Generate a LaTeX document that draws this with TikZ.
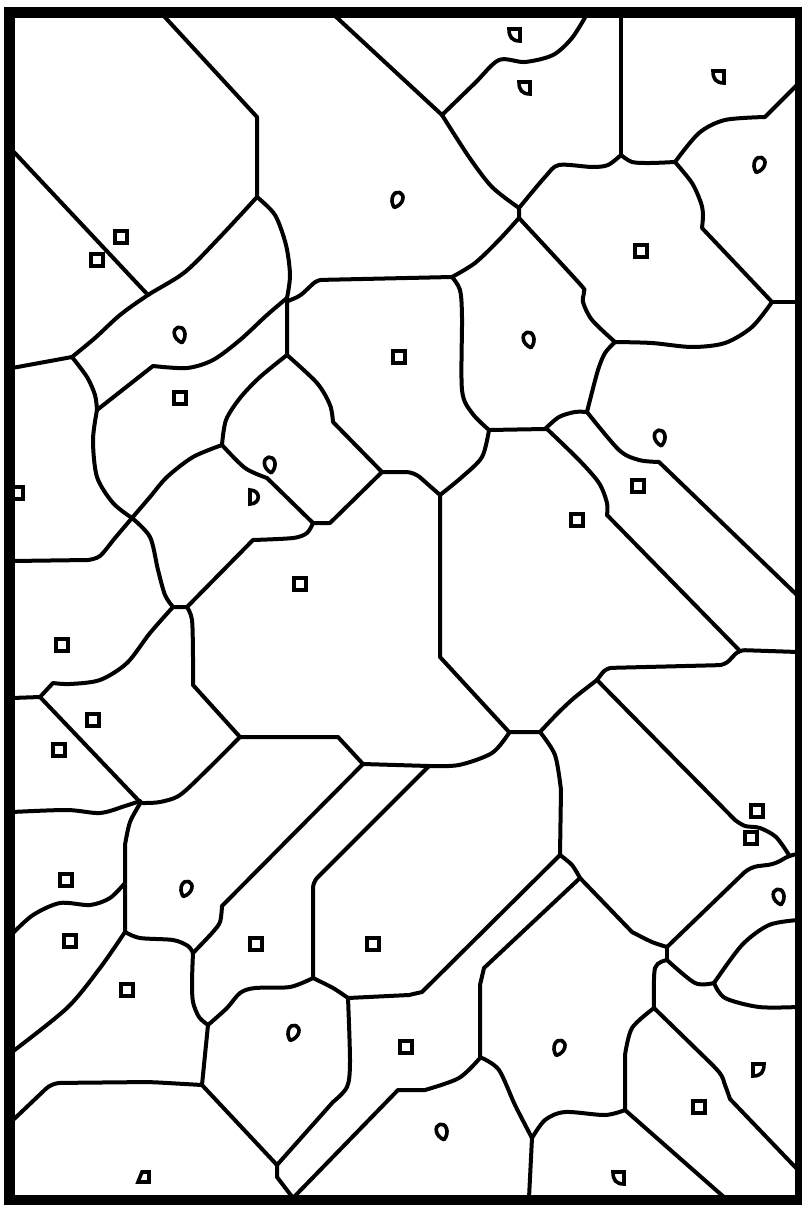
\documentclass[tikz,border=0pt]{standalone}
\usepackage{tikz}
\tikzset{
  wall/.style={line width=4pt, line join=round, line cap=round},
  seed/.style={line width=3.6pt, line join=miter},
  frame/.style={line width=11pt}
}
\newcommand{\seedbox}[1]{\draw[seed] (#1) ++(-6,-6) rectangle ++(12,12);}
\newcommand{\seeddrop}[2]{\draw[seed, line join=round, shift={(#1)}, rotate=#2] (0,8) .. controls (-8,2) and (-6,-8) .. (0,-8) .. controls (6,-8) and (8,2) .. (0,8) -- cycle;}
\newcommand{\seedquarter}[1]{\draw[seed] (#1) ++(5,-6) -- ++(-11,0) .. controls +(0,8) and +(-8,0) .. ++(11,12) -- cycle;}
\newcommand{\seedcorner}[1]{\draw[seed] (#1) ++(-6,-6) -- ++(11,0) .. controls +(0,8) and +(8,0) .. ++(-11,12) -- cycle;}
\newcommand{\seedhalf}[1]{\draw[seed] (#1) ++(-5,-7) -- ++(0,14) .. controls +(11,0) and +(11,0) .. ++(0,-14) -- cycle;}
\newcommand{\seedtrap}[1]{\draw[seed] (#1) ++(-2,-5) -- ++(7,0) -- ++(0,10) -- ++(-11,0) -- cycle;}

\begin{document}
\begin{tikzpicture}[x=1pt, y=-1pt]
\useasboundingbox (0,0) rectangle (802,1205);
\fill[white] (0,0) rectangle (802,1205);

% Top left cells
\draw[wall] (162,14) -- (257,117) -- (257,197);
\draw[wall] (12,150) -- (148,295);
\draw[wall] plot[smooth] coordinates {(257,197) (220,237) (185,272) (148,295) (120,315) (95,338) (72,357)};
\draw[wall] (12,368) -- (72,357);
\draw[wall] plot[smooth] coordinates {(72,357) (87,377) (95,395) (97,410)};
\draw[wall] plot[smooth] coordinates {(257,197) (275,215) (286,245) (290,275) (287,298)} -- (287,355);
\draw[wall] plot[smooth] coordinates {(287,298) (267,315) (240,340) (213,360) (187,368) (153,366)} -- (97,410);
\draw[wall, rounded corners=5] (288,301) -- (300,296) -- (317,280) -- (452,277);

% Middle left cells
\draw[wall] plot[smooth] coordinates {(287,355) (260,377) (240,398) (226,420) (222,445)};
\draw[wall] plot[smooth] coordinates {(287,355) (317,383) (330,405) (333,422)} -- (382,472);
\draw[wall, rounded corners=8] (382,472) -- (414,472) -- (440,495);
\draw[wall] (382,472) -- (330,523) -- (313,523);
\draw[wall] plot[smooth] coordinates {(222,445) (245,468) (267,478)} -- (313,523);
\draw[wall] plot[smooth] coordinates {(313,523) (307,533) (293,538) (253,540)} -- (187,607) -- (173,607);
\draw[wall] plot[smooth] coordinates {(97,410) (93,440) (97,477) (113,503) (132,518)};
\draw[wall] plot[smooth] coordinates {(132,518) (150,497) (167,477) (193,457) (222,445)};
\draw[wall] plot[smooth] coordinates {(132,518) (150,537) (158,570) (165,595) (173,607)};
\draw[wall] plot[smooth] coordinates {(132,518) (115,538) (100,556) (88,560)} -- (12,561);
\draw[wall] plot[smooth] coordinates {(187,607) (192,620) (193,657) (193,685)} -- (240,737);
\draw[wall] plot[smooth] coordinates {(173,607) (150,633) (127,663) (100,680) (70,684) (53,683)} -- (40,697) -- (12,698);
\draw[wall] (40,697) -- (140,802);

% Lower left cells
\draw[wall] plot[smooth] coordinates {(12,812) (67,810) (100,813) (125,806) (140,801)};
\draw[wall] plot[smooth] coordinates {(240,737) (207,770) (180,795) (160,802) (143,803)};
\draw[wall] plot[smooth] coordinates {(141,802) (130,822) (125,845)} -- (125,932);
\draw[wall] plot[smooth] coordinates {(12,934) (33,915) (60,903) (90,905) (110,898) (125,883)};
\draw[wall] plot[smooth] coordinates {(125,932) (100,968) (67,1008) (12,1052)};
\draw[wall] plot[smooth] coordinates {(125,932) (140,938) (173,940) (188,946) (193,953)};
\draw[wall] (240,737) -- (338,737) -- (363,764);
\draw[wall] (363,764) -- plot[smooth] coordinates {(429,766) (459,765) (492,753) (509,733)};
\draw[wall] (363,764) -- plot[smooth] coordinates {(222,906) (220,922) (212,933) (193,953)};
\draw[wall, rounded corners=6] (429,766) -- (333,862) -- (313,882) -- (313,978);
\draw[wall] plot[smooth] coordinates {(193,953) (192,982) (193,1002) (199,1017) (208,1025)};
\draw[wall] plot[smooth] coordinates {(208,1025) (227,1008) (240,993) (255,988) (290,987) (313,978)};
\draw[wall] plot[smooth] coordinates {(313,978) (333,988) (348,998)};
\draw[wall] (348,998) -- (409,995) -- (422,992) -- (560,855);
\draw[wall] plot[smooth] coordinates {(348,998) (350,1062) (347,1087) (333,1102)} -- (277,1165);
\draw[wall] (208,1025) -- (202,1085);
\draw[wall, rounded corners=8] (202,1085) -- (150,1082) -- (52,1083) -- (12,1121);
\draw[wall] (202,1085) -- (277,1165) -- (277,1177) -- (293,1198);
\draw[wall] (293,1198) -- (398,1090) -- plot[smooth] coordinates {(425,1090) (459,1078) (480,1058)};

% Centre cells
\draw[wall] (440,495) -- (440,657) -- (509,732) -- (540,732);
\draw[wall] plot[smooth] coordinates {(540,732) (557,714) (574,698) (597,680)};
\draw[wall] plot[smooth] coordinates {(540,732) (555,755) (561,790)} -- (560,855);
\draw[wall] plot[smooth] coordinates {(560,855) (572,865) (580,878)};
\draw[wall] (580,878) -- (484,968) -- (480,985) -- (480,1058);
\draw[wall] (580,878) -- plot[smooth] coordinates {(632,932) (652,942) (667,947)};
\draw[wall, rounded corners=8] (667,947) -- (750,867) -- (776,864) -- (789,855) -- (798,854);
\draw[wall] (597,680) -- plot[smooth] coordinates {(735,820) (745,826) (760,828) (776,837) (789,855)};
\draw[wall, rounded corners=6] (597,680) -- (606,668) -- (725,665) -- (739,650) -- (798,652);
\draw[wall] (607,515) -- (739,650);
\draw[wall] plot[smooth] coordinates {(547,429) (579,460) (599,483) (607,503) (607,515)};
\draw[wall] (489,430) -- (545,429);
\draw[wall] plot[smooth] coordinates {(545,429) (559,417) (575,412) (587,412)};
\draw[wall] plot[smooth] coordinates {(587,412) (619,450) (639,460) (659,462)} -- (798,596);
\draw[wall] plot[smooth] coordinates {(489,430) (482,457) (462,477) (440,495)};

% Upper centre and right cells
\draw[wall] plot[smooth] coordinates {(452,277) (460,290) (462,317) (462,390) (472,413) (489,430)};
\draw[wall] plot[smooth] coordinates {(615,342) (605,353) (598,370) (590,400) (587,412)};
\draw[wall] plot[smooth] coordinates {(519,218) (579,283) (584,291) (583,302) (592,320) (615,342)};
\draw[wall] plot[smooth] coordinates {(772,302) (752,327) (725,343) (692,347) (652,343) (615,342)};
\draw[wall] (772,302) -- (798,302);
\draw[wall] plot[smooth] coordinates {(675,162) (692,183) (701,203) (703,215) (702,228)} -- (772,302);
\draw[wall] plot[smooth] coordinates {(675,162) (699,133) (725,120) (765,117)} -- (798,84);
\draw[wall] (621,14) -- (621,155);
\draw[wall] plot[smooth] coordinates {(621,155) (632,162) (650,163) (675,162)};
\draw[wall] plot[smooth] coordinates {(621,155) (608,165) (592,167) (559,165) (545,177) (519,208)} -- (519,218);
\draw[wall] plot[smooth] coordinates {(519,218) (499,240) (475,263) (452,277)};
\draw[wall] (333,14) -- (442,115);
\draw[wall] plot[smooth] coordinates {(442,115) (469,157) (492,187) (519,208)};
\draw[wall] plot[smooth] coordinates {(442,115) (475,83) (499,60) (525,62) (553,55) (572,38) (587,14)};

% Lower right cells
\draw[wall] (667,947) -- (667,960);
\draw[wall] plot[smooth] coordinates {(667,960) (655,968) (654,1007)};
\draw[wall] plot[smooth] coordinates {(667,960) (695,983) (714,983)};
\draw[wall] plot[smooth] coordinates {(714,983) (742,945) (769,925) (798,920)};
\draw[wall] plot[smooth] coordinates {(714,983) (725,998) (759,1007) (798,1007)};
\draw[wall] plot[smooth] coordinates {(654,1008) (632,1028) (625,1055)} -- (625,1110);
\draw[wall] plot[smooth] coordinates {(654,1008) (692,1045) (719,1072) (725,1085) (730,1099)} -- (798,1170);
\draw[wall] plot[smooth] coordinates {(625,1110) (605,1115) (565,1112) (545,1120) (532,1138)};
\draw[wall] (625,1110) -- (725,1198);
\draw[wall] (532,1138) -- (529,1198);
\draw[wall] plot[smooth] coordinates {(532,1138) (515,1105) (499,1070) (482,1058)};

% Seed squares
\seedbox{17,493}
\seedbox{121,237} \seedbox{97,260} \seedbox{180,398} \seedbox{399,357}
\seedbox{641,251} \seedbox{638,486} \seedbox{577,520} \seedbox{300,584}
\seedbox{62,645} \seedbox{93,720} \seedbox{59,750} \seedbox{757,811}
\seedbox{751,838} \seedbox{66,880} \seedbox{70,941} \seedbox{256,944}
\seedbox{373,944} \seedbox{127,990} \seedbox{406,1047} \seedbox{699,1107}

% Seed drops
\seeddrop{397,200}{-20} \seeddrop{180,335}{15} \seeddrop{529,340}{15}
\seeddrop{759,165}{-20} \seeddrop{660,438}{10} \seeddrop{270,465}{10}
\seeddrop{186,889}{-20} \seeddrop{293,1033}{-20} \seeddrop{559,1048}{-20}
\seeddrop{779,897}{15} \seeddrop{442,1132}{15}

% Other seeds
\seedquarter{515,35} \seedquarter{525,88} \seedquarter{719,77} \seedquarter{619,1178}
\seedcorner{759,1070}
\seedhalf{255,497}
\seedtrap{144,1177}

% Outer frame
\draw[frame] (9.5,12.5) rectangle (800.5,1200.5);
\end{tikzpicture}
\end{document}
